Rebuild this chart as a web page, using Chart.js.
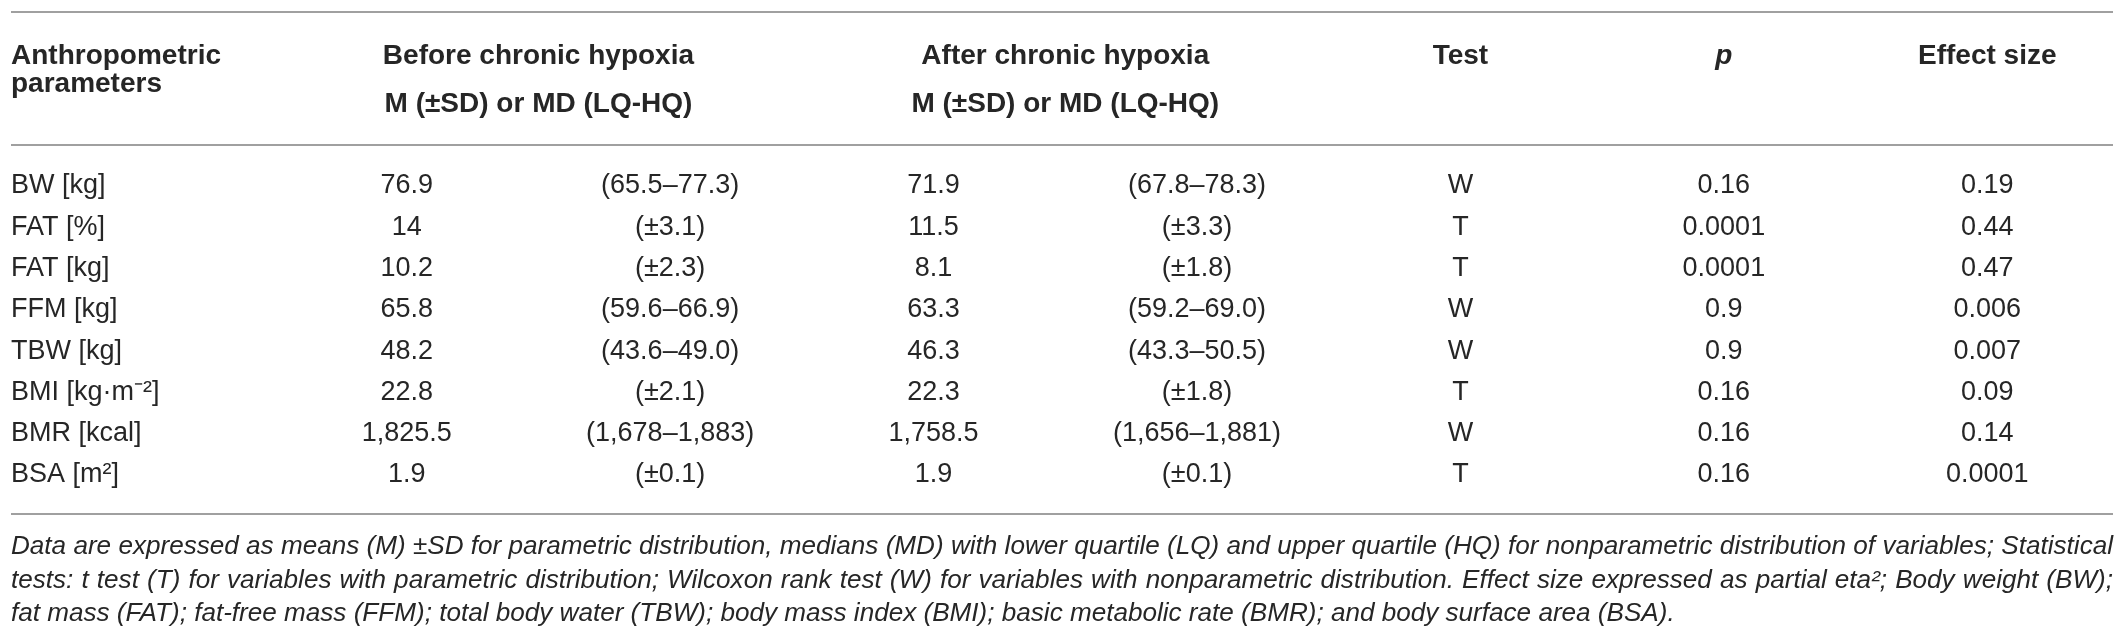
<!DOCTYPE html>
<html>
<head>
<meta charset="utf-8">
<script src="https://cdn.jsdelivr.net/npm/chart.js@4.4.1/dist/chart.umd.min.js"></script>
<style>
  html, body { margin: 0; padding: 0; background: #fff; }
  canvas { display: block; }
</style>
</head>
<body>
<canvas id="tableChart" width="2124" height="644"></canvas>
<script>
// table content
const rowLabels = ['BW [kg]', 'FAT [%]', 'FAT [kg]', 'FFM [kg]', 'TBW [kg]', 'BMI [kg·m⁻²]', 'BMR [kcal]', 'BSA [m²]'];
const beforeValues = ['76.9', '14', '10.2', '65.8', '48.2', '22.8', '1,825.5', '1.9'];
const beforeSpread = ['(65.5–77.3)', '(±3.1)', '(±2.3)', '(59.6–66.9)', '(43.6–49.0)', '(±2.1)', '(1,678–1,883)', '(±0.1)'];
const afterValues = ['71.9', '11.5', '8.1', '63.3', '46.3', '22.3', '1,758.5', '1.9'];
const afterSpread = ['(67.8–78.3)', '(±3.3)', '(±1.8)', '(59.2–69.0)', '(43.3–50.5)', '(±1.8)', '(1,656–1,881)', '(±0.1)'];
const testTypes = ['W', 'T', 'T', 'W', 'W', 'T', 'W', 'T'];
const pValues = ['0.16', '0.0001', '0.0001', '0.9', '0.9', '0.16', '0.16', '0.16'];
const effectSizes = ['0.19', '0.44', '0.47', '0.006', '0.007', '0.09', '0.14', '0.0001'];

const columnKeys = ['before', 'beforeSpread', 'after', 'afterSpread', 'test', 'p', 'effect'];
const columnCells = [beforeValues, beforeSpread, afterValues, afterSpread, testTypes, pValues, effectSizes];

const rowHeader = ['Anthropometric', 'parameters'];
const headerGroups = [
  { lines: ['Before chronic hypoxia', 'M (±SD) or MD (LQ-HQ)'], from: 'before', to: 'beforeSpread' },
  { lines: ['After chronic hypoxia', 'M (±SD) or MD (LQ-HQ)'], from: 'after', to: 'afterSpread' },
  { lines: ['Test'], from: 'test', to: 'test' },
  { lines: ['p'], from: 'p', to: 'p', italic: true },
  { lines: ['Effect size'], from: 'effect', to: 'effect' }
];

const footnoteLines = [
  'Data are expressed as means (M) ±SD for parametric distribution, medians (MD) with lower quartile (LQ) and upper quartile (HQ) for nonparametric distribution of variables; Statistical',
  'tests: t test (T) for variables with parametric distribution; Wilcoxon rank test (W) for variables with nonparametric distribution. Effect size expressed as partial eta²; Body weight (BW);',
  'fat mass (FAT); fat-free mass (FFM); total body water (TBW); body mass index (BMI); basic metabolic rate (BMR); and body surface area (BSA).'
];

const textColor = '#262626';
const ruleColor = '#a0a0a0';
const bodyFont = '"Liberation Sans", Arial, sans-serif';
const bodySize = 27;
const headSize = 28;

const datasets = columnKeys.map((key, c) => ({
  label: key,
  data: rowLabels.map(r => ({ x: key, y: r })),
  cellText: columnCells[c],
  pointRadius: 0,
  pointHoverRadius: 0,
  showLine: false
}));

// draws cell texts, headers, rules and the note
const tablePlugin = {
  id: 'tablePlugin',
  afterDatasetsDraw(chart) {
    const ctx = chart.ctx;
    const area = chart.chartArea;
    const xs = chart.scales.x;
    const left = chart.scales.y.left;
    const right = chart.width - 11;

    ctx.save();
    ctx.fillStyle = textColor;

    // body cells
    ctx.font = bodySize + 'px ' + bodyFont;
    ctx.textAlign = 'center';
    ctx.textBaseline = 'middle';
    chart.data.datasets.forEach((ds, i) => {
      chart.getDatasetMeta(i).data.forEach((pt, j) => {
        ctx.fillText(ds.cellText[j], pt.x, pt.y);
      });
    });

    // header
    ctx.textBaseline = 'alphabetic';
    ctx.font = 'bold ' + headSize + 'px ' + bodyFont;
    ctx.textAlign = 'left';
    ctx.fillText(rowHeader[0], left, 64);
    ctx.fillText(rowHeader[1], left, 92);
    ctx.textAlign = 'center';
    headerGroups.forEach(g => {
      const cx = (xs.getPixelForValue(columnKeys.indexOf(g.from)) + xs.getPixelForValue(columnKeys.indexOf(g.to))) / 2;
      ctx.font = (g.italic ? 'italic ' : '') + 'bold ' + headSize + 'px ' + bodyFont;
      g.lines.forEach((t, k) => ctx.fillText(t, cx, 64 + k * 48));
    });

    // rules
    ctx.strokeStyle = ruleColor;
    ctx.lineWidth = 2;
    [12, area.top - 41, area.bottom + 39].forEach(y => {
      ctx.beginPath();
      ctx.moveTo(left, y);
      ctx.lineTo(right, y);
      ctx.stroke();
    });

    // note: size set so the first line fills the width, justified except the last line
    const target = right - left;
    ctx.font = 'italic 24px ' + bodyFont;
    const size = Math.min(28, 24 * target / ctx.measureText(footnoteLines[0]).width);
    ctx.font = 'italic ' + size.toFixed(2) + 'px ' + bodyFont;
    ctx.textAlign = 'left';
    ctx.textBaseline = 'middle';
    footnoteLines.forEach((t, k) => {
      const y = area.bottom + 72 + k * 33.5;
      if (k === footnoteLines.length - 1) {
        ctx.fillText(t, left, y);
        return;
      }
      const words = t.split(' ');
      const wordsWidth = words.reduce((s, w) => s + ctx.measureText(w).width, 0);
      const gap = Math.max(0, (target - wordsWidth) / (words.length - 1));
      let x = left;
      words.forEach(w => {
        ctx.fillText(w, x, y);
        x += ctx.measureText(w).width + gap;
      });
    });
    ctx.restore();
  }
};

new Chart(document.getElementById('tableChart'), {
  type: 'scatter',
  data: { datasets },
  options: {
    responsive: false,
    animation: false,
    devicePixelRatio: 1,
    events: [],
    layout: { padding: { top: 186, bottom: 169, left: 11, right: 5 } },
    plugins: { legend: { display: false }, tooltip: { enabled: false } },
    scales: {
      x: {
        type: 'category',
        labels: columnKeys,
        offset: true,
        display: false
      },
      y: {
        type: 'category',
        labels: rowLabels,
        offset: false,
        grid: { display: false },
        border: { display: false },
        afterFit(scale) { scale.width = 264; },
        ticks: {
          crossAlign: 'far',
          color: textColor,
          font: { family: bodyFont, size: bodySize }
        }
      }
    }
  },
  plugins: [tablePlugin]
});
</script>
</body>
</html>
